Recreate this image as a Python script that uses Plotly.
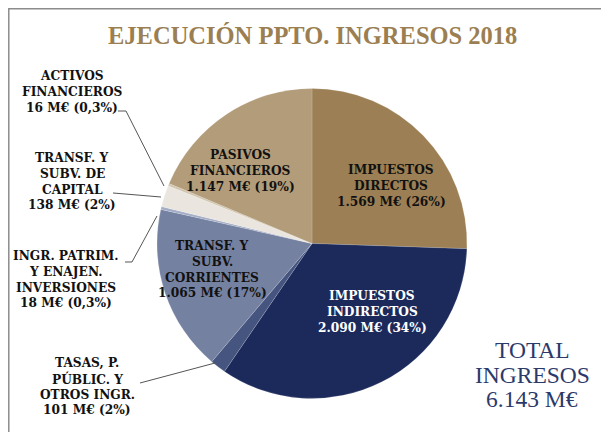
import plotly.graph_objects as go

# ---- data ----
categories = [
    ["IMPUESTOS", "DIRECTOS"],
    ["IMPUESTOS", "INDIRECTOS"],
    ["TASAS, P.", "PÚBLIC. Y", "OTROS INGR."],
    ["TRANSF. Y", "SUBV.", "CORRIENTES"],
    ["INGR. PATRIM.", "Y ENAJEN.", "INVERSIONES"],
    ["TRANSF. Y", "SUBV. DE", "CAPITAL"],
    ["ACTIVOS", "FINANCIEROS"],
    ["PASIVOS", "FINANCIEROS"],
]
values_meur = [1569, 2090, 101, 1065, 18, 138, 16, 1147]
value_labels = ["1.569", "2.090", "101", "1.065", "18", "138", "16", "1.147"]
pct_labels = ["26%", "34%", "2%", "17%", "0,3%", "2%", "0,3%", "19%"]
total_lines = ["TOTAL", "INGRESOS", "6.143 M€"]
title_text = "EJECUCIÓN PPTO. INGRESOS 2018"

colors = ["#9C7F54", "#1C2A5B", "#46557F", "#7581A1", "#A3ADC6",
          "#EAE6DF", "#D2C6B0", "#B29C7A"]
text_colors = ["#111111", "#FFFFFF", "#111111", "#111111", "#111111",
               "#111111", "#111111", "#111111"]

W, H = 609, 432
OFF = 8  # page body margin


def px(x):
    return (x - OFF) / W


def py(y):
    return 1 - (y - OFF) / H


# pie geometry (pixels, page coordinates)
cx, cy, r = 312, 243.5, 155

fig = go.Figure()
fig.add_trace(go.Pie(
    values=values_meur,
    labels=[" ".join(c) for c in categories],
    sort=False,
    direction="clockwise",
    rotation=0,
    textinfo="none",
    hoverinfo="label+value+percent",
    marker=dict(colors=colors, line=dict(color="rgba(255,255,255,0.3)", width=0.5)),
    domain=dict(x=[px(cx - r), px(cx + r)], y=[py(cy + r), py(cy - r)]),
    showlegend=False,
))

# label first-line centre positions (pixels)
label_pos = [
    (391, 170),   # impuestos directos
    (372, 296),   # impuestos indirectos
    (87, 363),    # tasas
    (212, 246),   # transf corrientes
    (66, 256),    # ingr patrim
    (72, 158),    # transf capital
    (72, 76),     # activos financieros
    (240, 155),   # pasivos financieros
]
LINE_H = 15.8

label_font = "DejaVu Serif"
annotations = []
for cat, v, p, (lx, ly), tc in zip(categories, value_labels, pct_labels, label_pos, text_colors):
    lines = cat + [f"{v} M€ ({p})"]
    for i, ln in enumerate(lines):
        annotations.append(dict(
            x=px(lx), y=py(ly + i * LINE_H), xref="paper", yref="paper",
            text=f"<b>{ln}</b>", showarrow=False, align="center",
            xanchor="center", yanchor="middle",
            font=dict(family=label_font, size=12.2, color=tc),
        ))

# title
annotations.append(dict(
    x=px(312), y=py(36), xref="paper", yref="paper",
    text=f"<b>{title_text}</b>", showarrow=False,
    xanchor="center", yanchor="middle",
    font=dict(family="Liberation Serif", size=24.5, color="#9B7F52"),
))

# total
for i, ln in enumerate(total_lines):
    annotations.append(dict(
        x=px(532), y=py(350 + i * 24.5), xref="paper", yref="paper",
        text=ln, showarrow=False,
        align="center", xanchor="center", yanchor="middle",
        font=dict(family="Liberation Serif", size=23.5, color="#2B3A6B"),
    ))

line_style = dict(color="#555555", width=1)
leader_lines = [
    [(118, 111), (126, 111), (164, 186)],   # activos
    [(113, 193), (161, 197)],               # transf capital
    [(125, 262), (132, 262), (157, 216)],   # ingr patrim
    [(140, 383), (215, 363)],               # tasas
]
shapes = []
for pts in leader_lines:
    path = "M " + " L ".join(f"{px(x):.5f},{py(y):.5f}" for x, y in pts)
    shapes.append(dict(type="path", xref="paper", yref="paper", path=path,
                       line=line_style))

# chart border
shapes.append(dict(type="rect", xref="paper", yref="paper",
                   x0=px(8.8), x1=1.02, y0=-0.02, y1=py(8.8),
                   line=dict(color="#8C8C8C", width=1.5)))

fig.update_layout(
    width=W, height=H,
    margin=dict(l=0, r=0, t=0, b=0),
    paper_bgcolor="white",
    plot_bgcolor="white",
    annotations=annotations,
    shapes=shapes,
)

fig.write_html("out.html")
